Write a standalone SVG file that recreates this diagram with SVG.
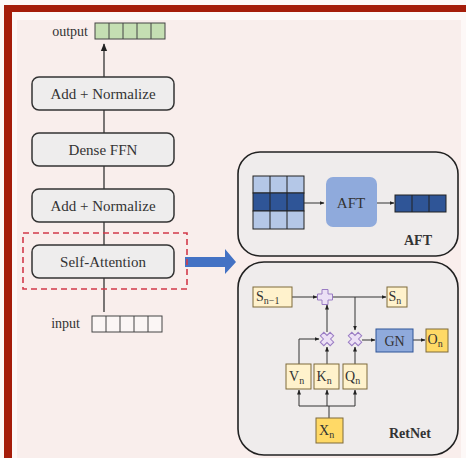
<svg xmlns="http://www.w3.org/2000/svg" width="466" height="458" viewBox="0 0 466 458">
<defs>
<style>
text{font-family:"Liberation Serif","Times New Roman",Times,serif;fill:#333}
.blk{fill:#eeeded;stroke:#333;stroke-width:1.5}
.ln{stroke:#333;stroke-width:1.3;fill:none}
.thin{stroke:#333;stroke-width:1;fill:none}
.panel{fill:#efecec;stroke:#222;stroke-width:1.6}
.lt{fill:#b4c7e7;stroke:#222;stroke-width:1}
.dk{fill:#2f5597;stroke:#222;stroke-width:1}
.y1{fill:#fff2cc;stroke:#7f6a3a;stroke-width:1}
.y2{fill:#ffd966;stroke:#7f6a3a;stroke-width:1}
.op{fill:#ece0f5;stroke:#9a7cc4;stroke-width:1}
.cell{stroke:#444;stroke-width:1}
.sub{font-size:10px}
</style>
<marker id="ah" viewBox="0 0 10 10" refX="9" refY="5" markerWidth="6" markerHeight="6" orient="auto">
<path d="M0,1 L10,5 L0,9 z" fill="#222"/>
</marker>
<marker id="ahs" viewBox="0 0 10 10" refX="9" refY="5" markerWidth="5" markerHeight="5" orient="auto">
<path d="M0,1 L10,5 L0,9 z" fill="#222"/>
</marker>
</defs>
<rect width="466" height="458" fill="#fdf8f7"/>
<rect x="17" y="20" width="444" height="438" fill="#f9eeec"/>
<rect x="4" y="5" width="462" height="7" fill="#a51d0a"/>
<rect x="4" y="5" width="8" height="453" fill="#a51d0a"/>

<g id="aft-panel">
<rect class="panel" x="238" y="152" width="220" height="104" rx="22"/>
<rect class="lt" x="253" y="176" width="51" height="17"/>
<rect class="dk" x="253" y="193" width="51" height="18"/>
<rect class="lt" x="253" y="211" width="51" height="18"/>
<path d="M270,176V229M287,176V229" stroke="#222" stroke-width="1"/>
<text x="418" y="245" font-size="14" font-weight="bold" text-anchor="middle">AFT</text>
</g>
<g id="retnet-panel">
<rect class="panel" x="238" y="262" width="220" height="193" rx="26"/>
<text x="410" y="438" font-size="14" font-weight="bold" text-anchor="middle">RetNet</text>
</g>

<g id="connectors">
<line class="ln" x1="104" y1="77" x2="104" y2="44" marker-end="url(#ah)"/>
<line class="ln" x1="104" y1="110" x2="104" y2="133"/>
<line class="ln" x1="104" y1="166" x2="104" y2="189"/>
<line class="ln" x1="104" y1="222" x2="104" y2="245"/>
<line class="ln" x1="104" y1="278" x2="104" y2="312"/>
<path d="M185,257 H225 V249 L236,262 L225,274 V267 H185 Z" fill="#4472c4"/>
<line class="thin" x1="304" y1="203" x2="324" y2="203" marker-end="url(#ahs)"/>
<line class="thin" x1="377" y1="203" x2="394" y2="203" marker-end="url(#ahs)"/>
<line class="thin" x1="292" y1="297" x2="317" y2="297" marker-end="url(#ahs)"/>
<line class="thin" x1="333" y1="297" x2="386" y2="297" marker-end="url(#ahs)"/>
<line class="thin" x1="355" y1="297" x2="355" y2="330" marker-end="url(#ahs)"/>
<line class="thin" x1="327" y1="332" x2="327" y2="305" marker-end="url(#ahs)"/>
<polyline class="thin" points="299,364 299,339 319,339" marker-end="url(#ahs)"/>
<line class="thin" x1="327" y1="364" x2="327" y2="347" marker-end="url(#ahs)"/>
<line class="thin" x1="355" y1="364" x2="355" y2="347" marker-end="url(#ahs)"/>
<line class="thin" x1="362" y1="340" x2="375" y2="340" marker-end="url(#ahs)"/>
<line class="thin" x1="413" y1="340" x2="425" y2="340" marker-end="url(#ahs)"/>
<line class="thin" x1="329" y1="418" x2="329" y2="406"/>
<line class="thin" x1="299" y1="406" x2="355" y2="406"/>
<line class="thin" x1="299" y1="406" x2="299" y2="390" marker-end="url(#ahs)"/>
<line class="thin" x1="327" y1="406" x2="327" y2="390" marker-end="url(#ahs)"/>
<line class="thin" x1="355" y1="406" x2="355" y2="390" marker-end="url(#ahs)"/>
</g>

<g id="output">
<text x="88" y="36" font-size="14" text-anchor="end">output</text>
<rect x="95" y="23" width="70" height="16" fill="#c5dfb3" stroke="#444"/>
<path class="cell" d="M109,23V39M123,23V39M137,23V39M151,23V39"/>
</g>
<g id="add-normalize-top">
<rect class="blk" x="32" y="77" width="142" height="33" rx="7"/>
<text x="103" y="99" font-size="15" text-anchor="middle">Add + Normalize</text>
</g>
<g id="dense-ffn">
<rect class="blk" x="32" y="133" width="142" height="33" rx="7"/>
<text x="103" y="155" font-size="15" text-anchor="middle">Dense FFN</text>
</g>
<g id="add-normalize-bottom">
<rect class="blk" x="32" y="189" width="142" height="33" rx="7"/>
<text x="103" y="211" font-size="15" text-anchor="middle">Add + Normalize</text>
</g>
<g id="self-attention">
<rect x="23" y="233" width="164" height="56" fill="none" stroke="#d23a4a" stroke-width="1.6" stroke-dasharray="6,4"/>
<rect class="blk" x="32" y="245" width="142" height="33" rx="7"/>
<text x="103" y="267" font-size="15" text-anchor="middle">Self-Attention</text>
</g>
<g id="input">
<text x="80" y="328" font-size="14" text-anchor="end">input</text>
<rect x="92" y="316" width="70" height="16" fill="#fbf6f5" stroke="#444"/>
<path class="cell" d="M106,316V332M120,316V332M134,316V332M148,316V332"/>
</g>

<g id="aft-block">
<rect x="326" y="177" width="51" height="50" rx="7" fill="#8faadc"/>
<text x="351" y="208" font-size="15" text-anchor="middle">AFT</text>
</g>
<g id="aft-out">
<rect class="dk" x="395" y="195" width="51" height="17"/>
<path d="M412,195V212M429,195V212" stroke="#222" stroke-width="1"/>
</g>

<g id="s-prev">
<rect class="y1" x="253" y="287" width="39" height="20"/>
<text x="256" y="301" font-size="14">S<tspan class="sub" dy="3">n−1</tspan></text>
</g>
<g id="plus">
<path class="op" transform="translate(325,297)" d="M-3,-7.5H3V-3H7.5V3H3V7.5H-3V3H-7.5V-3H-3Z"/>
</g>
<g id="s-n">
<rect class="y1" x="387" y="287" width="20" height="20"/>
<text x="388.5" y="301" font-size="14">S<tspan class="sub" dy="3">n</tspan></text>
</g>
<g id="mul1">
<path class="op" transform="translate(327,339) rotate(45)" d="M-2.5,-7H2.5V-2.5H7V2.5H2.5V7H-2.5V2.5H-7V-2.5H-2.5Z"/>
</g>
<g id="mul2">
<path class="op" transform="translate(355,339) rotate(45)" d="M-2.5,-7H2.5V-2.5H7V2.5H2.5V7H-2.5V2.5H-7V-2.5H-2.5Z"/>
</g>
<g id="gn">
<rect x="376" y="329" width="37" height="23" fill="#8faadc" stroke="#2f5597" stroke-width="1"/>
<text x="394.5" y="345.5" font-size="14" text-anchor="middle">GN</text>
</g>
<g id="o-n">
<rect class="y2" x="426" y="329" width="22" height="23"/>
<text x="427.5" y="344" font-size="14">O<tspan class="sub" dy="3">n</tspan></text>
</g>
<g id="v-n">
<rect class="y1" x="286" y="364" width="25" height="25"/>
<text x="289" y="381" font-size="14">V<tspan class="sub" dy="3">n</tspan></text>
</g>
<g id="k-n">
<rect class="y1" x="314" y="364" width="25" height="25"/>
<text x="316.5" y="381" font-size="14">K<tspan class="sub" dy="3">n</tspan></text>
</g>
<g id="q-n">
<rect class="y1" x="343" y="364" width="24" height="25"/>
<text x="345" y="381" font-size="14">Q<tspan class="sub" dy="3">n</tspan></text>
</g>
<g id="x-n">
<rect class="y2" x="316" y="418" width="27" height="25"/>
<text x="319" y="435" font-size="14">X<tspan class="sub" dy="3">n</tspan></text>
</g>
</svg>
